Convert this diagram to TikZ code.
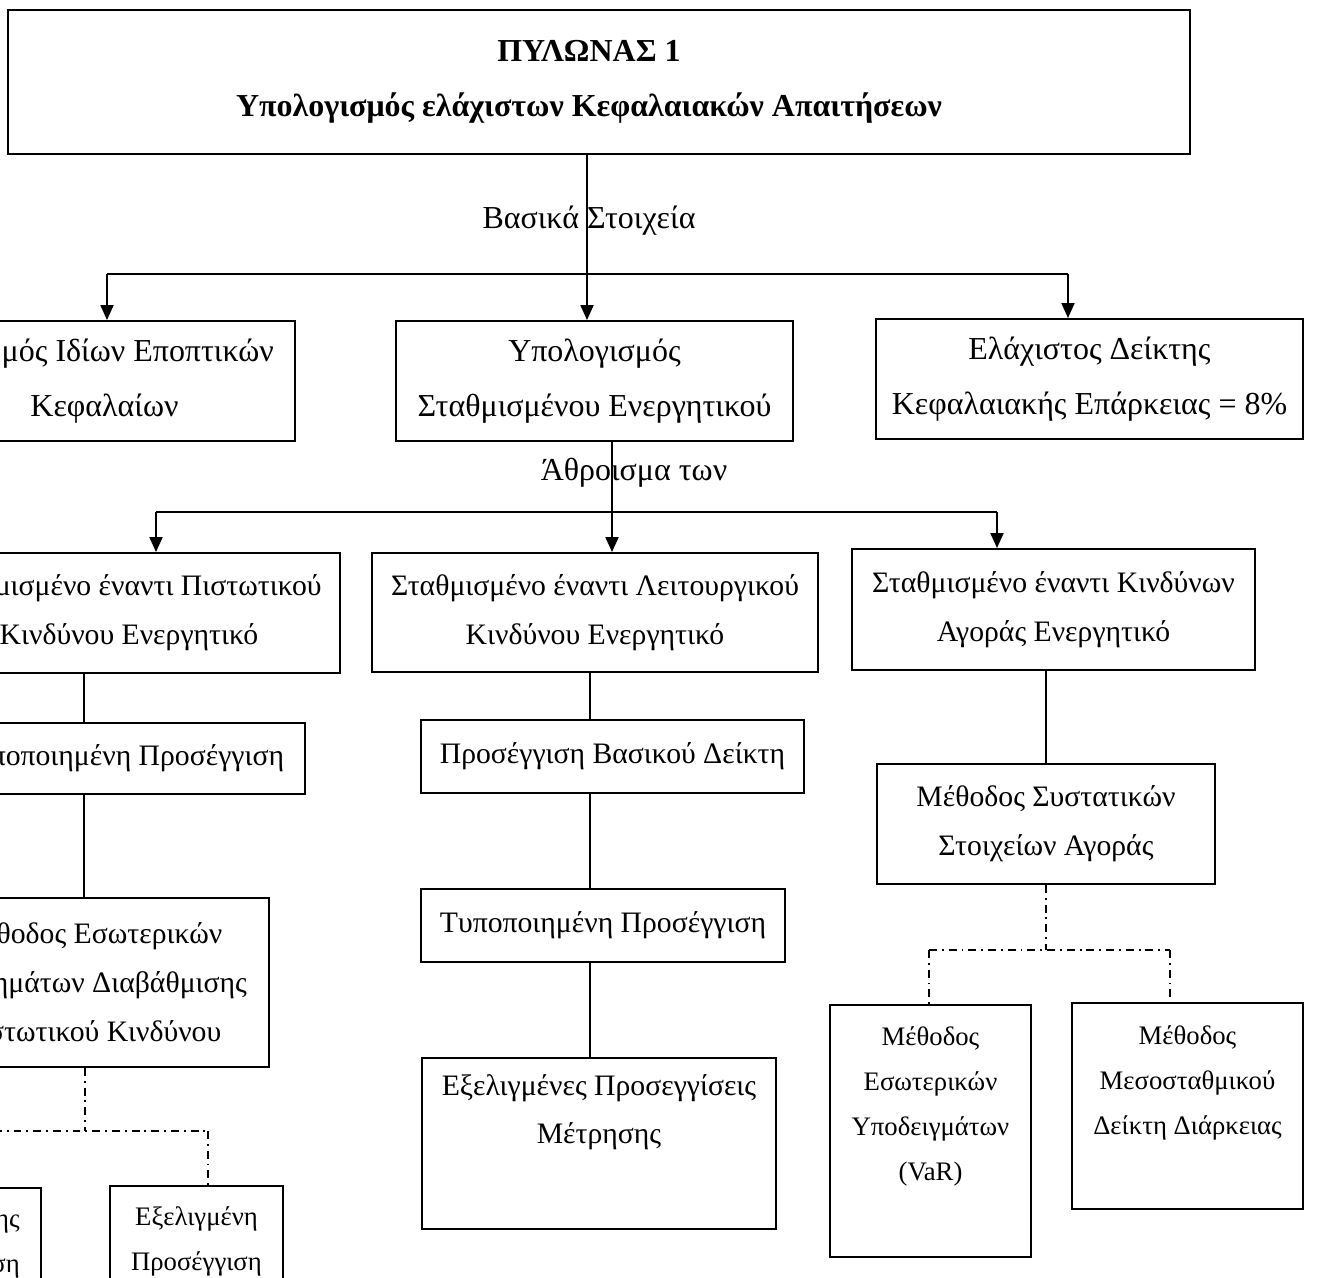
\documentclass[tikz,border=0pt]{standalone}
\usepackage{fontspec}
\setmainfont{Liberation Serif}
\usetikzlibrary{arrows.meta}

\begin{document}
\begin{tikzpicture}[x=0.02cm, y=-0.02cm,
    box/.style={draw, line width=1.1pt, align=center, inner sep=0pt,
      font=\fontsize{16.9}{27.8}\selectfont},
    wide/.style={font=\fontsize{18.2}{31.3}\selectfont},
    title/.style={font=\fontsize{18.2}{31.3}\selectfont\bfseries},
    small/.style={font=\fontsize{15.2}{25.5}\selectfont},
    lbl/.style={anchor=base, font=\fontsize{18.2}{20}\selectfont},
    link/.style={line width=1.1pt},
    arr/.style={line width=1.1pt, -{Triangle[length=0.3cm, width=0.26cm]}},
    dd/.style={line width=0.9pt, dash pattern=on 4.5pt off 2.8pt on 1.1pt off 2.8pt}]
    \useasboundingbox (0,0) rectangle (1320,1278);
    \clip (0,0) rectangle (1320,1278);

    % Pillar 1 (top box)
    \node[box, title, minimum width=23.64cm, minimum height=2.88cm] (pyl) at (599,82)
        {ΠΥΛΩΝΑΣ 1\hspace*{0.4cm}\\Υπολογισμός ελάχιστων Κεφαλαιακών Απαιτήσεων\hspace*{0.4cm}};

    % first level
    \node[box, wide, minimum width=8.82cm, minimum height=2.4cm] (idia) at (74.5,381)
        {\phantom{Υπολογισ}μός Ιδίων Εποπτικών\\\hspace*{1.2cm}Κεφαλαίων};
    \node[box, wide, minimum width=7.94cm, minimum height=2.4cm] (stathm) at (594.5,381)
        {Υπολογισμός\\Σταθμισμένου Ενεργητικού};
    \node[box, wide, minimum width=8.54cm, minimum height=2.4cm] (deikt) at (1089.5,379)
        {Ελάχιστος Δείκτης\\Κεφαλαιακής Επάρκειας = 8\%};

    % second level
    \node[box, minimum width=8.44cm, minimum height=2.4cm] (pist) at (129,613)
        {\phantom{Σταθ}μισμένο έναντι Πιστωτικού\\Κινδύνου Ενεργητικό};
    \node[box, minimum width=8.92cm, minimum height=2.38cm] (leit) at (595,612.5)
        {Σταθμισμένο έναντι Λειτουργικού\\Κινδύνου Ενεργητικό};
    \node[box, minimum width=8.06cm, minimum height=2.42cm] (agor) at (1053.5,609.5)
        {Σταθμισμένο έναντι Κινδύνων\\Αγοράς Ενεργητικό};

    % credit risk branch
    \node[box, minimum width=7.36cm, minimum height=1.42cm] (typ1) at (121,758.5)
        {\phantom{Τυ}ποποιημένη Προσέγγιση};
    \node[box, minimum width=7.16cm, minimum height=3.38cm] (irb) at (90,982.5)
        {\phantom{Μέ}θοδος Εσωτερικών\\\phantom{Συστ}ημάτων Διαβάθμισης\\\phantom{Πι}στωτικού Κινδύνου};
    \node[box, small, anchor=north, minimum width=3.46cm, minimum height=3cm] (found) at (-45.5,1187)
        {\phantom{Θεμελιώδ}ης\\\phantom{Προσέγγι}ση\\~};
    \node[box, small, anchor=north, minimum width=3.46cm, minimum height=3cm] (adv) at (196.5,1185)
        {Εξελιγμένη\\Προσέγγιση\\~};

    % operational risk branch
    \node[box, minimum width=7.66cm, minimum height=1.46cm] (basic) at (612.5,756.5)
        {Προσέγγιση Βασικού Δείκτη};
    \node[box, minimum width=7.28cm, minimum height=1.46cm] (typ2) at (603,925.5)
        {Τυποποιημένη Προσέγγιση};
    \node[box, minimum width=7.08cm, minimum height=3.42cm] (ama) at (599,1143.5)
        {Εξελιγμένες Προσεγγίσεις\\Μέτρησης\\[0.4cm]~};

    % market risk branch
    \node[box, minimum width=6.76cm, minimum height=2.4cm] (stand) at (1046,824)
        {Μέθοδος Συστατικών\\Στοιχείων Αγοράς};
    \node[box, small, minimum width=4.02cm, minimum height=5.04cm] (var) at (930.5,1131)
        {Μέθοδος\\Εσωτερικών\\Υποδειγμάτων\\(VaR)\\[0.2cm]~};
    \node[box, small, minimum width=4.62cm, minimum height=4.12cm] (dur) at (1187.5,1106)
        {Μέθοδος\\Μεσοσταθμικού\\Δείκτη Διάρκειας\\[0.15cm]~};

    % top -> first level
    \coordinate (sp1) at (587,274);
    \coordinate (sp1l) at (107,274);
    \coordinate (sp1r) at (1068,274);
    \draw[link] (pyl.south -| sp1) -- (sp1);
    \draw[link] (sp1l) -- (sp1r);
    \draw[arr] (sp1) -- (sp1 |- stathm.north);
    \draw[arr] (sp1l) -- (sp1l |- idia.north);
    \draw[arr] (sp1r) -- (sp1r |- deikt.north);
    \node[lbl] (basika) at (589,228) {Βασικά Στοιχεία};

    % first level -> second level
    \coordinate (sp2) at (612,512);
    \coordinate (sp2l) at (156,512);
    \coordinate (sp2r) at (997,512);
    \draw[link] (stathm.south -| sp2) -- (sp2);
    \draw[link] (sp2l) -- (sp2r);
    \draw[arr] (sp2) -- (sp2 |- leit.north);
    \draw[arr] (sp2l) -- (sp2l |- pist.north);
    \draw[arr] (sp2r) -- (sp2r |- agor.north);
    \node[lbl] (athr) at (634,480) {Άθροισμα των};

    % solid chains
    \coordinate (crx) at (84,0);
    \draw[link] (pist.south -| crx) -- (typ1.north -| crx);
    \draw[link] (typ1.south -| crx) -- (irb.north -| crx);
    \coordinate (opx) at (590,0);
    \draw[link] (leit.south -| opx) -- (basic.north -| opx);
    \draw[link] (basic.south -| opx) -- (typ2.north -| opx);
    \draw[link] (typ2.south -| opx) -- (ama.north -| opx);
    \draw[link] (agor.south -| stand.north) -- (stand.north);

    % dash-dot splits
    \coordinate (sp3) at (85,1131);
    \coordinate (sp3l) at (found.north |- sp3);
    \coordinate (sp3r) at (208,1131);
    \draw[dd] (irb.south -| sp3) -- (sp3);
    \draw[dd] (sp3l) -- (sp3r);
    \draw[dd] (sp3l) -- (found.north);
    \draw[dd] (sp3r) -- (sp3r |- adv.north);

    \coordinate (sp4) at (1046,950);
    \coordinate (sp4l) at (929,950);
    \coordinate (sp4r) at (1170,950);
    \draw[dd] (stand.south) -- (stand.south |- sp4);
    \draw[dd] (sp4l) -- (sp4r);
    \draw[dd] (sp4l) -- (sp4l |- var.north);
    \draw[dd] (sp4r) -- (sp4r |- dur.north);
\end{tikzpicture}
\end{document}
